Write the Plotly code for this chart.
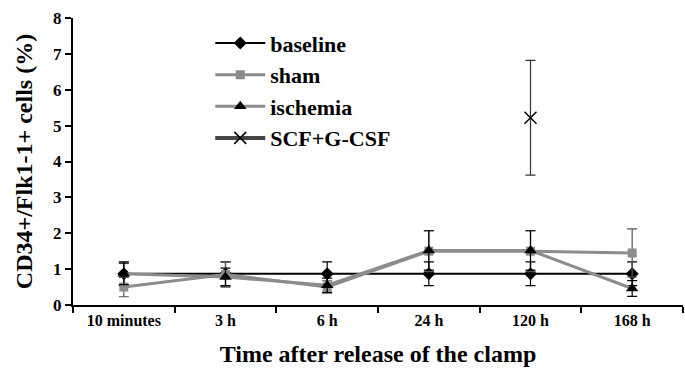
import plotly.graph_objects as go

categories = ["10 minutes", "3 h", "6 h", "24 h", "120 h", "168 h"]
baseline = [0.87, 0.87, 0.87, 0.87, 0.87, 0.87]
baseline_err = [0.33, 0.33, 0.33, 0.33, 0.33, 0.33]
sham = [0.50, 0.85, 0.50, 1.50, 1.50, 1.45]
sham_err = [0.27, 0.35, 0.17, 0.57, 0.57, 0.67]
ischemia = [0.87, 0.78, 0.55, 1.52, 1.52, 0.46]
ischemia_err = [0.30, 0.25, 0.20, 0.55, 0.55, 0.22]
scf_cat = ["120 h"]
scf = [5.22]
scf_err = [1.60]

font_family = "Liberation Serif, Times New Roman, serif"

fig = go.Figure()
fig.add_trace(go.Scatter(
    x=categories, y=baseline, name="<b>baseline</b>", legendgroup="a",
    mode="lines+markers", line=dict(color="black", width=2),
    marker=dict(symbol="diamond", size=10, color="black"),
    error_y=dict(type="data", array=baseline_err, color="black", thickness=1.2, width=5)))
fig.add_trace(go.Scatter(
    x=categories, y=sham, name="<b>sham</b>", legendgroup="b",
    mode="lines+markers", line=dict(color="#8c8c8c", width=3),
    marker=dict(symbol="square", size=9, color="#8c8c8c"),
    error_y=dict(type="data", array=sham_err, color="#555555", thickness=1.2, width=5)))
fig.add_trace(go.Scatter(
    x=categories, y=ischemia, name="<b>ischemia</b>", legendgroup="c",
    mode="lines+markers", line=dict(color="#8c8c8c", width=3),
    marker=dict(symbol="triangle-up", size=11, color="black"),
    error_y=dict(type="data", array=ischemia_err, color="black", thickness=1.2, width=5)))
fig.add_trace(go.Scatter(
    x=scf_cat, y=scf, name="<b>SCF+G-CSF</b>", legendgroup="d",
    mode="lines+markers", line=dict(color="#444444", width=4),
    marker=dict(symbol="x-thin", size=12, color="black", line=dict(color="black", width=1.5)),
    error_y=dict(type="data", array=scf_err, color="#333333", thickness=1.2, width=5)))

fig.update_layout(
    width=685, height=379,
    margin=dict(l=73, r=2, t=18, b=74),
    paper_bgcolor="white", plot_bgcolor="white",
    font=dict(family=font_family, color="black", size=16),
    legend=dict(x=0.225, y=0.985, xanchor="left", yanchor="top",
                font=dict(size=22, family=font_family, color="black"),
                itemwidth=50, tracegroupgap=0, bgcolor="rgba(0,0,0,0)"),
    xaxis=dict(type="category", range=[-0.5, 5.5], showline=True, linecolor="black", linewidth=2,
               ticks="outside", tickson="boundaries", ticklen=6, tickcolor="black", tickwidth=2,
               showgrid=False, zeroline=False,
               tickfont=dict(size=16, family=font_family),
               tickvals=categories, ticktext=["<b>%s</b>" % c for c in categories],
               title=dict(text="<b>Time after release of the clamp</b>", font=dict(size=24), standoff=17)),
    yaxis=dict(range=[0, 8], dtick=1, showline=True, linecolor="black", linewidth=2,
               ticks="outside", ticklen=6, tickcolor="black", tickwidth=2,
               showgrid=False, zeroline=False,
               tickfont=dict(size=17, family=font_family),
               tickvals=[0, 1, 2, 3, 4, 5, 6, 7, 8],
               ticktext=["<b>%d</b>" % v for v in range(9)],
               title=dict(text="<b>CD34+/Flk1-1+ cells (%)</b>", font=dict(size=24), standoff=14)),
)
fig.write_html("out.html")
